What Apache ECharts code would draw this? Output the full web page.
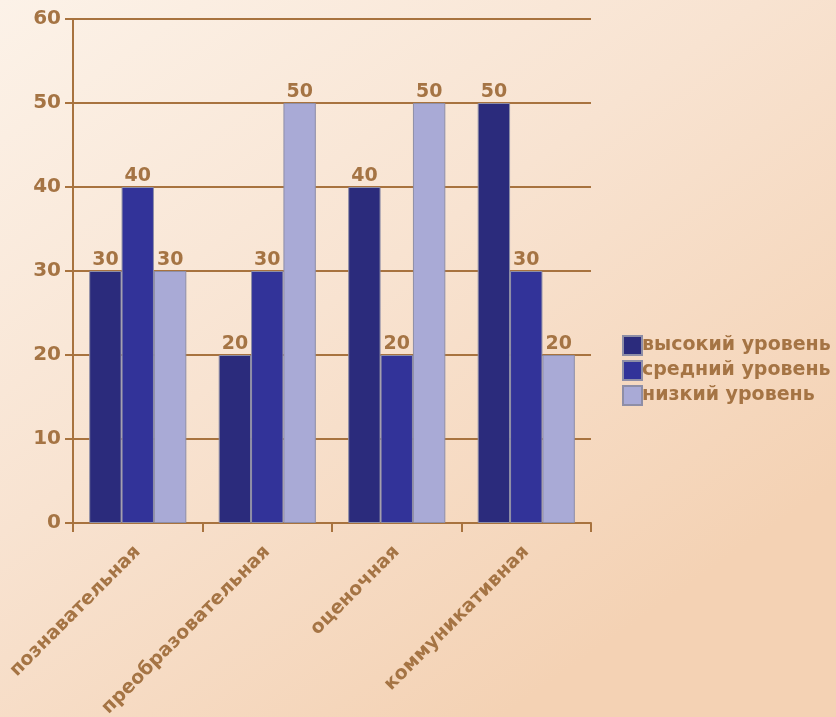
<!DOCTYPE html>
<html><head><meta charset="utf-8">
<script src="https://cdn.jsdelivr.net/npm/echarts@6/dist/echarts.min.js"></script>
<style>html,body{margin:0;padding:0;}#c{width:836px;height:717px;}</style>
</head><body><div id="c"></div>
<script>
var categories = ['познавательная', 'преобразовательная', 'оценочная', 'коммуникативная'];
var seriesNames = ['высокий уровень', 'средний уровень', 'низкий уровень'];
var high = [30, 20, 40, 50];
var medium = [40, 30, 20, 30];
var low = [30, 50, 50, 20];
var yTicks = [0, 10, 20, 30, 40, 50, 60];

var brown = '#a8733f';
var textC = '#a57444';
var colors = ['#2b2b7c', '#323399', '#a9aad6'];
var font = 'DejaVu Sans';

function mk(name, data, color) {
  return {
    name: name, type: 'bar', data: data, barGap: '0%', barCategoryGap: '25%',
    itemStyle: { color: color, borderColor: '#8e8ea6', borderWidth: 1 },
    label: { show: true, position: 'top', distance: 1, color: textC, fontFamily: font, fontWeight: 'bold', fontSize: 19 }
  };
}

var chart = echarts.init(document.getElementById('c'));
chart.setOption({
  backgroundColor: {
    type: 'linear', x: 0, y: 0, x2: 0.6, y2: 1,
    colorStops: [{ offset: 0, color: '#fcf2e8' }, { offset: 0.5, color: '#f8e3d1' }, { offset: 1, color: '#f4d2b4' }]
  },
  animation: false,
  grid: { left: 73, right: 245, top: 19, bottom: 194, containLabel: false, outerBoundsMode: 'none' },
  legend: {
    orient: 'vertical', left: 617, top: 330, itemWidth: 19, itemHeight: 19, itemGap: 4,
    icon: 'rect', data: seriesNames,
    textStyle: { color: textC, fontFamily: font, fontWeight: 'bold', fontSize: 19, lineHeight: 21, padding: [0, 0, 0, -5] }
  },
  xAxis: {
    type: 'category', data: categories,
    axisLine: { lineStyle: { color: brown, width: 2 } },
    axisTick: { show: true, length: 9, lineStyle: { color: brown, width: 2 } },
    axisLabel: { rotate: 45, color: textC, fontFamily: font, fontWeight: 'bold', fontSize: 19, margin: 26, interval: 0 }
  },
  yAxis: {
    type: 'value', min: 0, max: 60, interval: 10,
    axisLine: { show: true, lineStyle: { color: brown, width: 2 } },
    axisTick: { show: true, length: 8, lineStyle: { color: brown, width: 2 } },
    splitLine: { lineStyle: { color: brown, width: 2 } },
    axisLabel: { color: textC, fontFamily: font, fontWeight: 'bold', fontSize: 20, margin: 12,
      formatter: function (v) { return yTicks.indexOf(v) >= 0 ? String(v) : ''; } }
  },
  series: [mk(seriesNames[0], high, colors[0]), mk(seriesNames[1], medium, colors[1]), mk(seriesNames[2], low, colors[2])]
});
</script></body></html>
